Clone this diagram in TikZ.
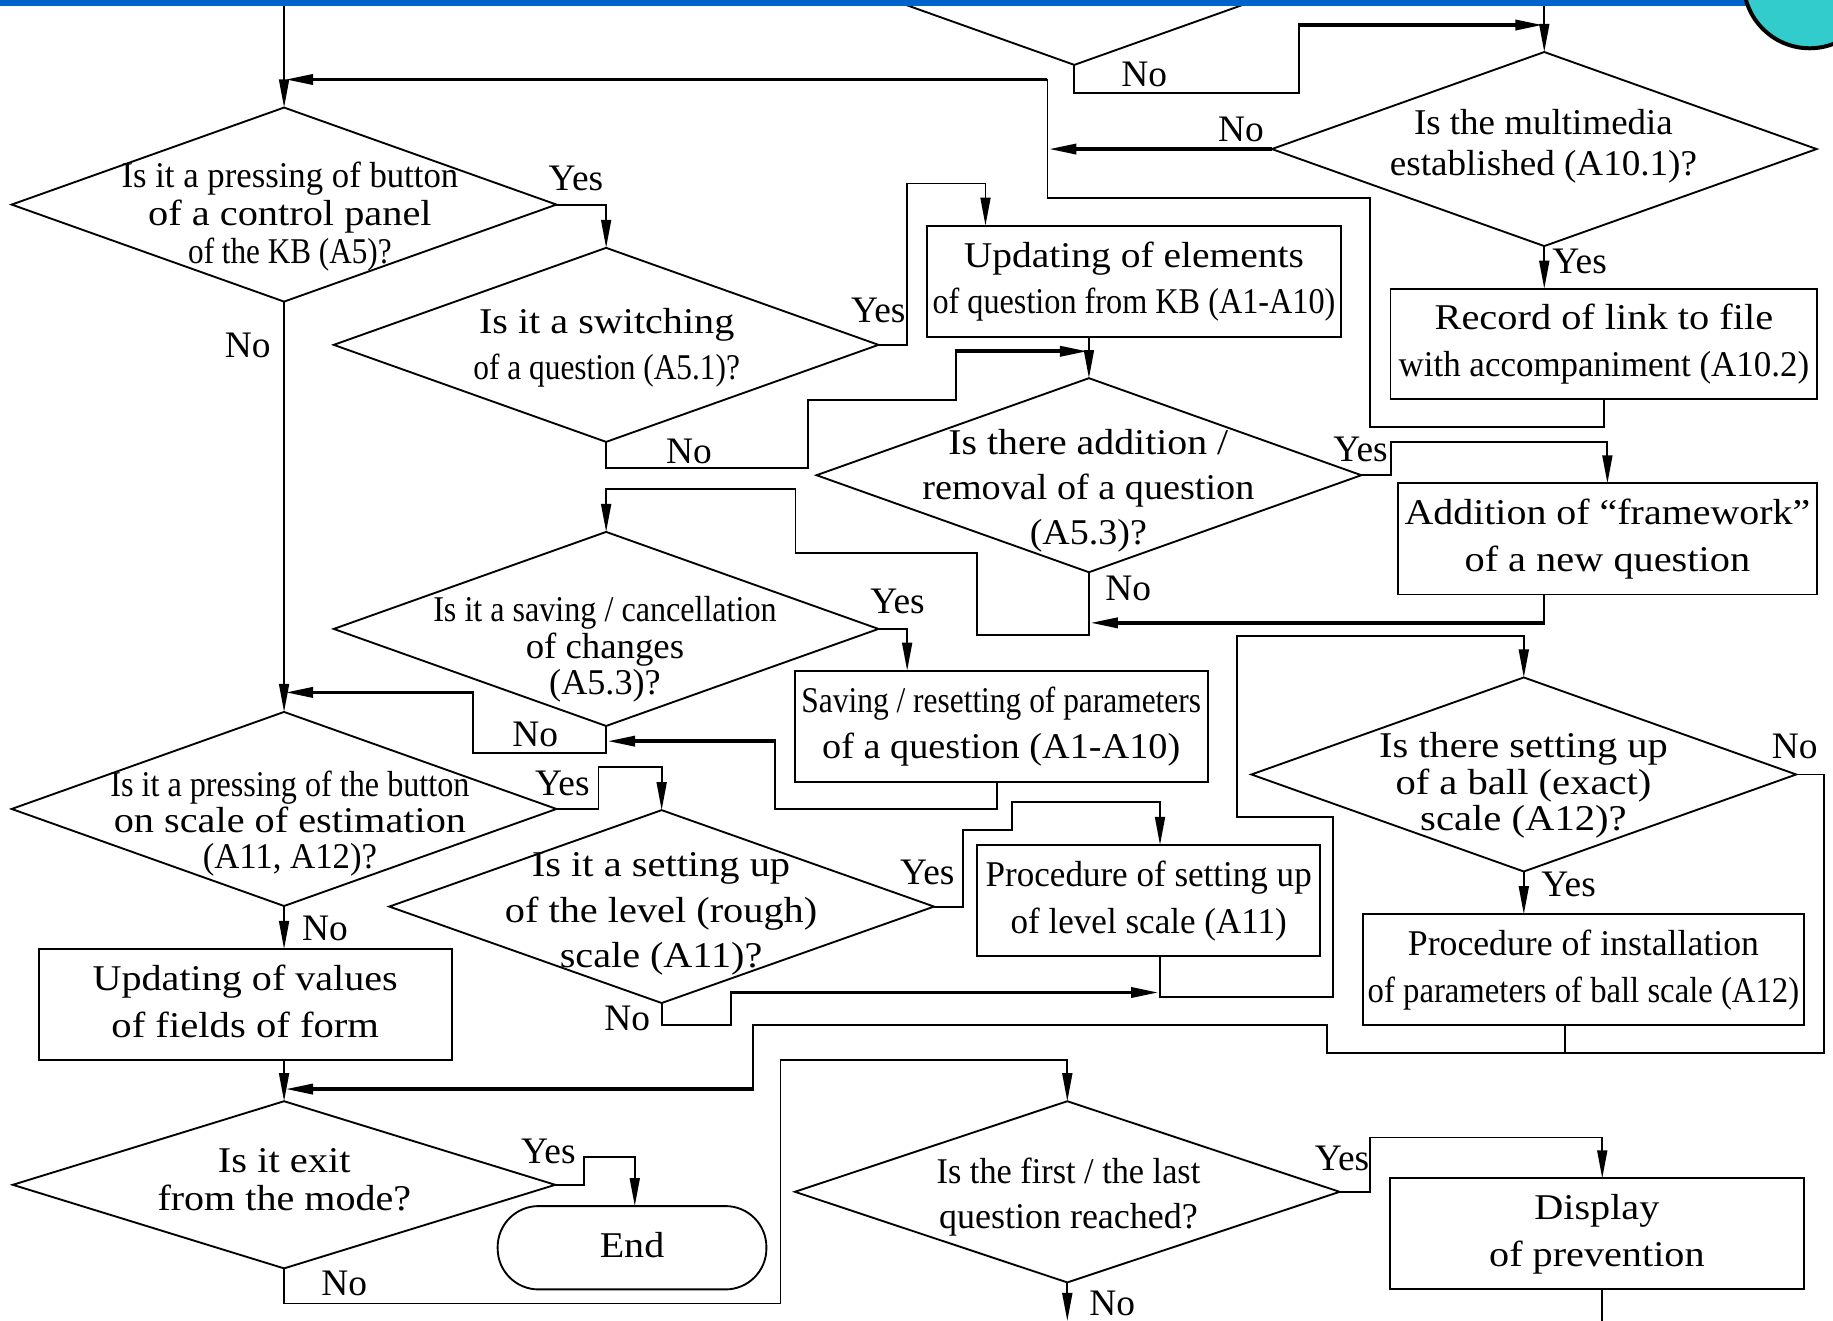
\documentclass[tikz,border=0pt]{standalone}
\usepackage{fontspec}
\setmainfont{Liberation Serif}
\usepackage{graphicx}
\usetikzlibrary{shapes.geometric,arrows.meta}
\newcommand{\fitl}[2]{\strut\resizebox{#1pt}{\height}{#2}}
\newcommand{\fs}[2]{\fontsize{#1}{#2}\selectfont\lineskiplimit=-50pt\relax}
\definecolor{barblue}{RGB}{0,99,204}
\definecolor{tealc}{RGB}{51,204,204}
\begin{document}
\begin{tikzpicture}[x=1pt,y=-1pt,
  every node/.style={inner sep=0pt, outer sep=0pt},
  dia/.style={diamond, draw, line width=1.6pt, minimum width=466pt, minimum height=166pt},
  box/.style={rectangle, draw, line width=1.6pt, align=center, font=\fs{31}{40}},
  dtxt/.style={align=center},
  lab/.style={anchor=base west, font=\fs{32}{40}},
  ln/.style={line width=1.6pt},
  tk/.style={line width=3.2pt},
  arr/.style={-{Triangle[length=24pt,width=8.5pt]}},
]
\useasboundingbox (0,0) rectangle (1568,1130);
\clip (0,0) rectangle (1568,1130);

% partially visible top diamond, bar and circle
\node[dia] (d0) at (919,-27.5) {};
\fill[barblue] (0,0) rectangle (1568,5.1);
\draw[line width=3.4pt, fill=tealc] (1548,-15.2) circle (56.5pt);

% diamonds
\node[dia] (dmm) at (1321,127.5) {};
\node[dia] (d1) at (243,175) {};
\node[dia] (d2) at (518.5,295) {};
\node[dia] (d3) at (931.5,406.5) {};
\node[dia] (d4) at (518.5,538) {};
\node[dia] (d5) at (243,692) {};
\node[dia, minimum height=165pt] (d6) at (566,775.5) {};
\node[dia, minimum width=464pt, minimum height=143pt] (d7) at (243,1013.5) {};
\node[dia, minimum height=155pt] (d8) at (913,1019.5) {};
\node[dia] (d9) at (1303.5,662.5) {};

% diamond texts
\node[dtxt, font=\fs{31}{35}] (dmmt) at (1320.3,125.2)
  {\fitl{221.4}{Is the multimedia}\\ \fitl{262.7}{established (A10.1)?}};
\node[dtxt, font=\fs{31}{32.5}] (d1t) at (248,186.8)
  {\fitl{288}{Is it a pressing of button}\\ \fitl{242.5}{of a control panel}\\ \fitl{174}{of the KB (A5)?}};
\node[dtxt, font=\fs{31}{40}] (d2t) at (519,297)
  {\fitl{218.4}{Is it a switching}\\ \fitl{228}{of a question (A5.1)?}};
\node[dtxt, font=\fs{31}{38.5}] (d3t) at (931,420)
  {\fitl{239.3}{Is there addition /}\\ \fitl{284}{removal of a question}\\ \fitl{100.2}{(A5.3)?}};
\node[dtxt, font=\fs{31}{31.2}] (d4t) at (517.5,556.7)
  {\fitl{293.7}{Is it a saving / cancellation}\\ \fitl{135.5}{of changes}\\ \fitl{95.4}{(A5.3)?}};
\node[dtxt, font=\fs{31}{30.7}] (d5t) at (248,706)
  {\fitl{307.2}{Is it a pressing of the button}\\ \fitl{301.2}{on scale of estimation}\\ \fitl{149.1}{(A11, A12)?}};
\node[dtxt, font=\fs{31}{38.75}] (d6t) at (565.5,781)
  {\fitl{220.9}{Is it a setting up}\\ \fitl{267.1}{of the level (rough)}\\ \fitl{173.2}{scale (A11)?}};
\node[dtxt, font=\fs{31}{32.5}] (d7t) at (243.2,1012.9)
  {\fitl{113.5}{Is it exit}\\ \fitl{216.9}{from the mode?}};
\node[dtxt, font=\fs{31}{38.5}] (d8t) at (914,1023.9)
  {\fitl{225.5}{Is the first / the last}\\ \fitl{221.4}{question reached?}};
\node[dtxt, font=\fs{31}{31.25}] (d9t) at (1303.2,673.1)
  {\fitl{246.8}{Is there setting up}\\ \fitl{218.9}{of a ball (exact)}\\ \fitl{176.6}{scale (A12)?}};

% boxes
\node[box, minimum width=354pt, minimum height=95pt] (b1) at (970,240.5)
  {\fitl{291}{Updating of elements}\\ \fitl{344.6}{of question from KB (A1-A10)}};
\node[box, minimum width=365pt, minimum height=94.5pt] (b2) at (1372,294.25)
  {\fitl{289.6}{Record of link to file}\\ \fitl{351.2}{with accompaniment (A10.2)}};
\node[box, minimum width=359pt, minimum height=95pt] (b3) at (1375,461)
  {\fitl{347.1}{Addition of “framework”}\\ \fitl{244.3}{of a new question}};
\node[box, minimum width=353pt, minimum height=95pt] (b4) at (856.5,621.2)
  {\fitl{341.8}{Saving / resetting of parameters}\\ \fitl{306.3}{of a question (A1-A10)}};
\node[box, minimum width=353.6pt, minimum height=95pt] (b5) at (209.8,859.3)
  {\fitl{261}{Updating of values}\\ \fitl{228.9}{of fields of form}};
\node[box, minimum width=377pt, minimum height=95pt] (b6) at (1354.5,829.5)
  {\fitl{300.3}{Procedure of installation}\\ \fitl{369}{of parameters of ball scale (A12)}};
\node[box, minimum width=293.3pt, minimum height=95pt] (b7) at (982.65,770.3)
  {\fitl{278.9}{Procedure of setting up}\\ \fitl{236.2}{of level scale (A11)}};
\node[box, minimum width=354pt, minimum height=95pt] (b8) at (1366,1055.5)
  {\fitl{107}{Display}\\ \fitl{184.3}{of prevention}};
\node[box, rounded corners=35pt, minimum width=229.9pt, minimum height=71.3pt] (endn) at (540.65,1067.35)
  {\fitl{55.2}{End}};

% connectors
\coordinate (top1) at (243,5);
\coordinate (top2) at (1321,5);
\coordinate (exitA) at (913,1130);
\coordinate (exitB) at (1370.6,1130);

\draw[ln,arr] (top1) -- (d1.north);
\draw[ln] (b2.south) |- (1172,365) |- (896,169.7) -- (896,68);
\draw[tk,arr] (895.2,68) -- (243.8,68);
\draw[tk,arr] (dmm.west) -- (896.8,127.5);
\draw[ln] (d0.south) |- (1111,79.8) -- (1111,21.4);
\draw[tk,arr] (1110.2,21.4) -- (1320.2,21.4);
\draw[ln,arr] (top2) -- (dmm.north);
\draw[ln,arr] (dmm.south) -- (dmm.south |- b2.north);

\draw[ln,arr] (d1.east) -| (d2.north);
\draw[ln,arr] (d1.south) -- (d5.north);
\draw[ln,arr] (d2.east) -- (776,295) -- (776,157) -| ([xshift=50pt]b1.north west);
\draw[ln,arr] (d3.north |- b1.south) -- (d3.north);
\draw[ln] (d2.south) |- (691,400) |- (818,342) -- (818,300.5);
\draw[tk,arr] (817.2,300.5) -- (930.7,300.5);

\draw[ln,arr] (d3.east) -- (1190,406.5) -- (1190,378) -| (b3.north);
\draw[ln,arr] (d3.south) -- (931.5,543.5) -| (836,472.8) -| (680.5,418.6) -| (d4.north);
\draw[ln] ([xshift=-54pt]b3.south) -- ++(0,24.3);
\draw[tk,arr] (1321.8,532.8) -- (932.3,532.8);

\draw[ln,arr] (d4.east) -| ([xshift=96pt]b4.north west);
\draw[ln] (d4.south) |- (404.6,644.4) -- (404.6,592.3);
\draw[tk,arr] (405.4,592.3) -- (243.8,592.3);
\draw[ln] ([xshift=-3.5pt]b4.south) |- (662.6,692) -- (662.6,634);
\draw[tk,arr] (663.4,634) -- (519.3,634);

\draw[ln,arr] (d5.east) -- (512,692) -- (512,656.4) -| (d6.north);
\draw[ln,arr] (d5.south) -- (d5.south |- b5.north);
\draw[ln,arr] (d7.north |- b5.south) -- (d7.north);

\draw[ln,arr] (d6.east) -- (823.4,775.5) |- (865.6,710) -- (865.6,686.4) -| ([xshift=9.65pt]b7.north);
\draw[ln] (d6.south) |- (625,877) -- (625,849);
\draw[tk,arr] (624.2,849) -- (991.5,849);
\draw[ln,arr] ([xshift=9.65pt]b7.south) |- (1140,853) |- (1058,698.6) |- (1303.5,544) -- (d9.north);

\draw[ln,arr] (d9.south) -- (d9.south |- b6.north);
\draw[ln] (d9.east) -- (1560.6,662.5) |- (1135,900.5) |- (644,877) -- (644,931.6);
\draw[tk,arr] (644.8,931.6) -- (243.8,931.6);
\draw[ln] ([xshift=-15.5pt]b6.south) -- ++(0,23.5);

\draw[ln,arr] (d7.east) -- (499.5,1013.5) -- (499.5,989.8) -| ([xshift=2.35pt]endn.north);
\draw[ln,arr] (d7.south) |- (667.7,1115) -- (667.7,906.8) -| (d8.north);
\draw[ln,arr] (d8.east) -- (1172,1019.5) -- (1172,973) -| ([xshift=4.6pt]b8.north);
\draw[ln,arr] (d8.south) -- (exitA);
\draw[ln] ([xshift=4.6pt]b8.south) -- (exitB);

% Yes / No labels
\node[lab] (n0) at (959.2,73.6) {No};
\node[lab] (nmm) at (1042,121.2) {No};
\node[lab] (ymm) at (1328,233.8) {Yes};
\node[lab] (y1) at (469.4,163.1) {Yes};
\node[lab] (n1) at (192.3,305.7) {No};
\node[lab] (y2) at (728,276) {Yes};
\node[lab] (n2) at (569.8,396.3) {No};
\node[lab] (y3) at (1140.5,395) {Yes};
\node[lab] (n3) at (945.5,513.3) {No};
\node[lab] (y4) at (744.5,524.7) {Yes};
\node[lab] (n4) at (438.3,638.2) {No};
\node[lab] (y5) at (457.8,680.1) {Yes};
\node[lab] (n5) at (258.5,804.1) {No};
\node[lab] (y6) at (769.9,756.2) {Yes};
\node[lab] (n6) at (517,881.1) {No};
\node[lab] (n9) at (1515.6,648.7) {No};
\node[lab] (y9) at (1318.6,767) {Yes};
\node[lab] (y7) at (445.8,995.2) {Yes};
\node[lab] (n7) at (275,1108.6) {No};
\node[lab] (y8) at (1124.7,1001.4) {Yes};
\node[lab] (n8) at (931.8,1124.9) {No};
\end{tikzpicture}
\end{document}
